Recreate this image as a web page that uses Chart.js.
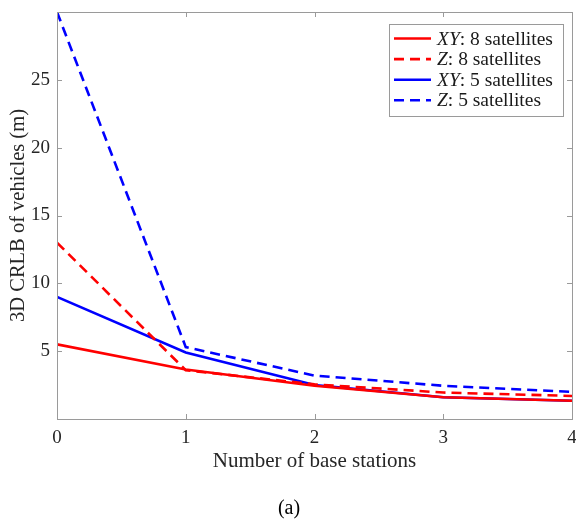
<!DOCTYPE html>
<html>
<head>
<meta charset="utf-8">
<script src="https://cdn.jsdelivr.net/npm/chart.js@4.4.1/dist/chart.umd.min.js"></script>
<style>
  html, body { margin: 0; padding: 0; background: #fff; overflow: hidden; }
  #chart-container { width: 580px; height: 520px; }
</style>
</head>
<body>
<div id="chart-container"><canvas id="crlbChart" width="580" height="520"></canvas></div>
<script>
//-------------------Data-------------------
const baseStations = [0, 1, 2, 3, 4];
const xy8 = [5.5, 3.65, 2.45, 1.6, 1.35];
const z8 = [13.0, 3.6, 2.55, 1.95, 1.7];
const xy5 = [9.0, 4.9, 2.5, 1.6, 1.35];
const z5 = [30.0, 5.3, 3.2, 2.45, 2.0];
const yTicks = [5, 10, 15, 20, 25];
const xTicks = [0, 1, 2, 3, 4];
const legendItalic = ['XY', 'Z', 'XY', 'Z'];
const legendRest = [': 8 satellites', ': 8 satellites', ': 5 satellites', ': 5 satellites'];

const FONT = '"Liberation Serif", "Times New Roman", serif';
const RED = '#ff0000';
const BLUE = '#0000ff';

//-------------------Functions-------------------
function toPoints(vals){
  return baseStations.map((b, i) => ({x: b, y: vals[i]}));
}

function makeDataset(label, vals, color, dashed){
  return {
    label: label,
    data: toPoints(vals),
    borderColor: color,
    backgroundColor: color,
    borderWidth: 2.6,
    borderDash: dashed ? [10, 6] : [],
    pointRadius: 0,
    tension: 0,
    fill: false
  };
}

//box round the plot with ticks pointing inside (matlab style)
const boxPlugin = {
  id: 'boxPlugin',
  afterDatasetsDraw(chart){
    const ctx = chart.ctx;
    const a = chart.chartArea;
    const xs = chart.scales.x;
    const ys = chart.scales.y;
    ctx.save();
    ctx.strokeStyle = '#9a9a9a';
    ctx.lineWidth = 1;
    ctx.setLineDash([]);
    ctx.strokeRect(Math.round(a.left) + 0.5, Math.round(a.top) + 0.5, Math.round(a.right - a.left), Math.round(a.bottom - a.top));
    ctx.beginPath();
    xTicks.forEach(v => {
      const px = Math.round(xs.getPixelForValue(v)) + 0.5;
      ctx.moveTo(px, a.bottom); ctx.lineTo(px, a.bottom - 5);
      ctx.moveTo(px, a.top); ctx.lineTo(px, a.top + 5);
    });
    yTicks.forEach(v => {
      const py = Math.round(ys.getPixelForValue(v)) + 0.5;
      ctx.moveTo(a.left, py); ctx.lineTo(a.left + 5, py);
      ctx.moveTo(a.right, py); ctx.lineTo(a.right - 5, py);
    });
    ctx.stroke();
    ctx.restore();
  }
};

//legend with italic XY / Z
const legendPlugin = {
  id: 'legendPlugin',
  afterDraw(chart){
    const ctx = chart.ctx;
    const a = chart.chartArea;
    const left = a.right - 183;
    const top = a.top + 12;
    ctx.save();
    ctx.fillStyle = '#fff';
    ctx.fillRect(left, top, 174, 92);
    ctx.strokeStyle = '#9a9a9a';
    ctx.lineWidth = 1;
    ctx.strokeRect(left + 0.5, top + 0.5, 174, 92);
    chart.data.datasets.forEach((ds, i) => {
      const y = top + 14.5 + i * 20.6;
      ctx.strokeStyle = ds.borderColor;
      ctx.lineWidth = 2.6;
      ctx.setLineDash(ds.borderDash);
      ctx.beginPath();
      ctx.moveTo(left + 5, y);
      ctx.lineTo(left + 42, y);
      ctx.stroke();
      ctx.setLineDash([]);
      ctx.fillStyle = '#1a1a1a';
      ctx.textBaseline = 'middle';
      ctx.font = 'italic 19.5px ' + FONT;
      const tx = left + 48;
      ctx.fillText(legendItalic[i], tx, y + 1);
      const w = ctx.measureText(legendItalic[i]).width;
      ctx.font = '19.5px ' + FONT;
      ctx.fillText(legendRest[i], tx + w, y + 1);
    });
    ctx.restore();
  }
};

//-------------------Main Code-------------------
document.addEventListener('DOMContentLoaded', () => {
  const ctx = document.getElementById('crlbChart').getContext('2d');

  new Chart(ctx, {
    type: 'line',
    data: {
      datasets: [
        makeDataset('XY: 8 satellites', xy8, RED, false),
        makeDataset('Z: 8 satellites', z8, RED, true),
        makeDataset('XY: 5 satellites', xy5, BLUE, false),
        makeDataset('Z: 5 satellites', z5, BLUE, true)
      ]
    },
    options: {
      responsive: false,
      animation: false,
      layout: { padding: { top: 12, left: 6, right: 8, bottom: 0 } },
      plugins: {
        legend: { display: false },
        tooltip: { enabled: false },
        title: {
          display: true,
          text: '(a)',
          position: 'bottom',
          color: '#000',
          font: { family: FONT, size: 20, weight: 'normal' },
          padding: { top: 23, bottom: -1 }
        }
      },
      scales: {
        x: {
          type: 'linear',
          min: 0,
          max: 4,
          afterBuildTicks: (scale) => { scale.ticks = xTicks.map(v => ({value: v})); },
          afterFit: (scale) => { scale.paddingRight = 0; scale.paddingLeft = 0; },
          grid: { display: true, drawOnChartArea: false, drawTicks: false },
          border: { display: false },
          ticks: { color: '#262626', padding: 8, font: { family: FONT, size: 19 } },
          title: {
            display: true,
            text: 'Number of base stations',
            color: '#262626',
            font: { family: FONT, size: 21 },
            padding: { top: -9, bottom: 0 }
          }
        },
        y: {
          min: 0,
          max: 30,
          afterBuildTicks: (scale) => { scale.ticks = yTicks.map(v => ({value: v})); },
          afterFit: (scale) => { scale.width = 51; scale.paddingTop = 0; scale.paddingBottom = 0; },
          grid: { display: true, drawOnChartArea: false, drawTicks: false },
          border: { display: false },
          ticks: { color: '#262626', padding: 7, font: { family: FONT, size: 19 } },
          title: {
            display: true,
            text: '3D CRLB of vehicles (m)',
            color: '#262626',
            font: { family: FONT, size: 20.5 },
            padding: { top: 0, bottom: 0 }
          }
        }
      }
    },
    plugins: [boxPlugin, legendPlugin]
  });
});
</script>
</body>
</html>
